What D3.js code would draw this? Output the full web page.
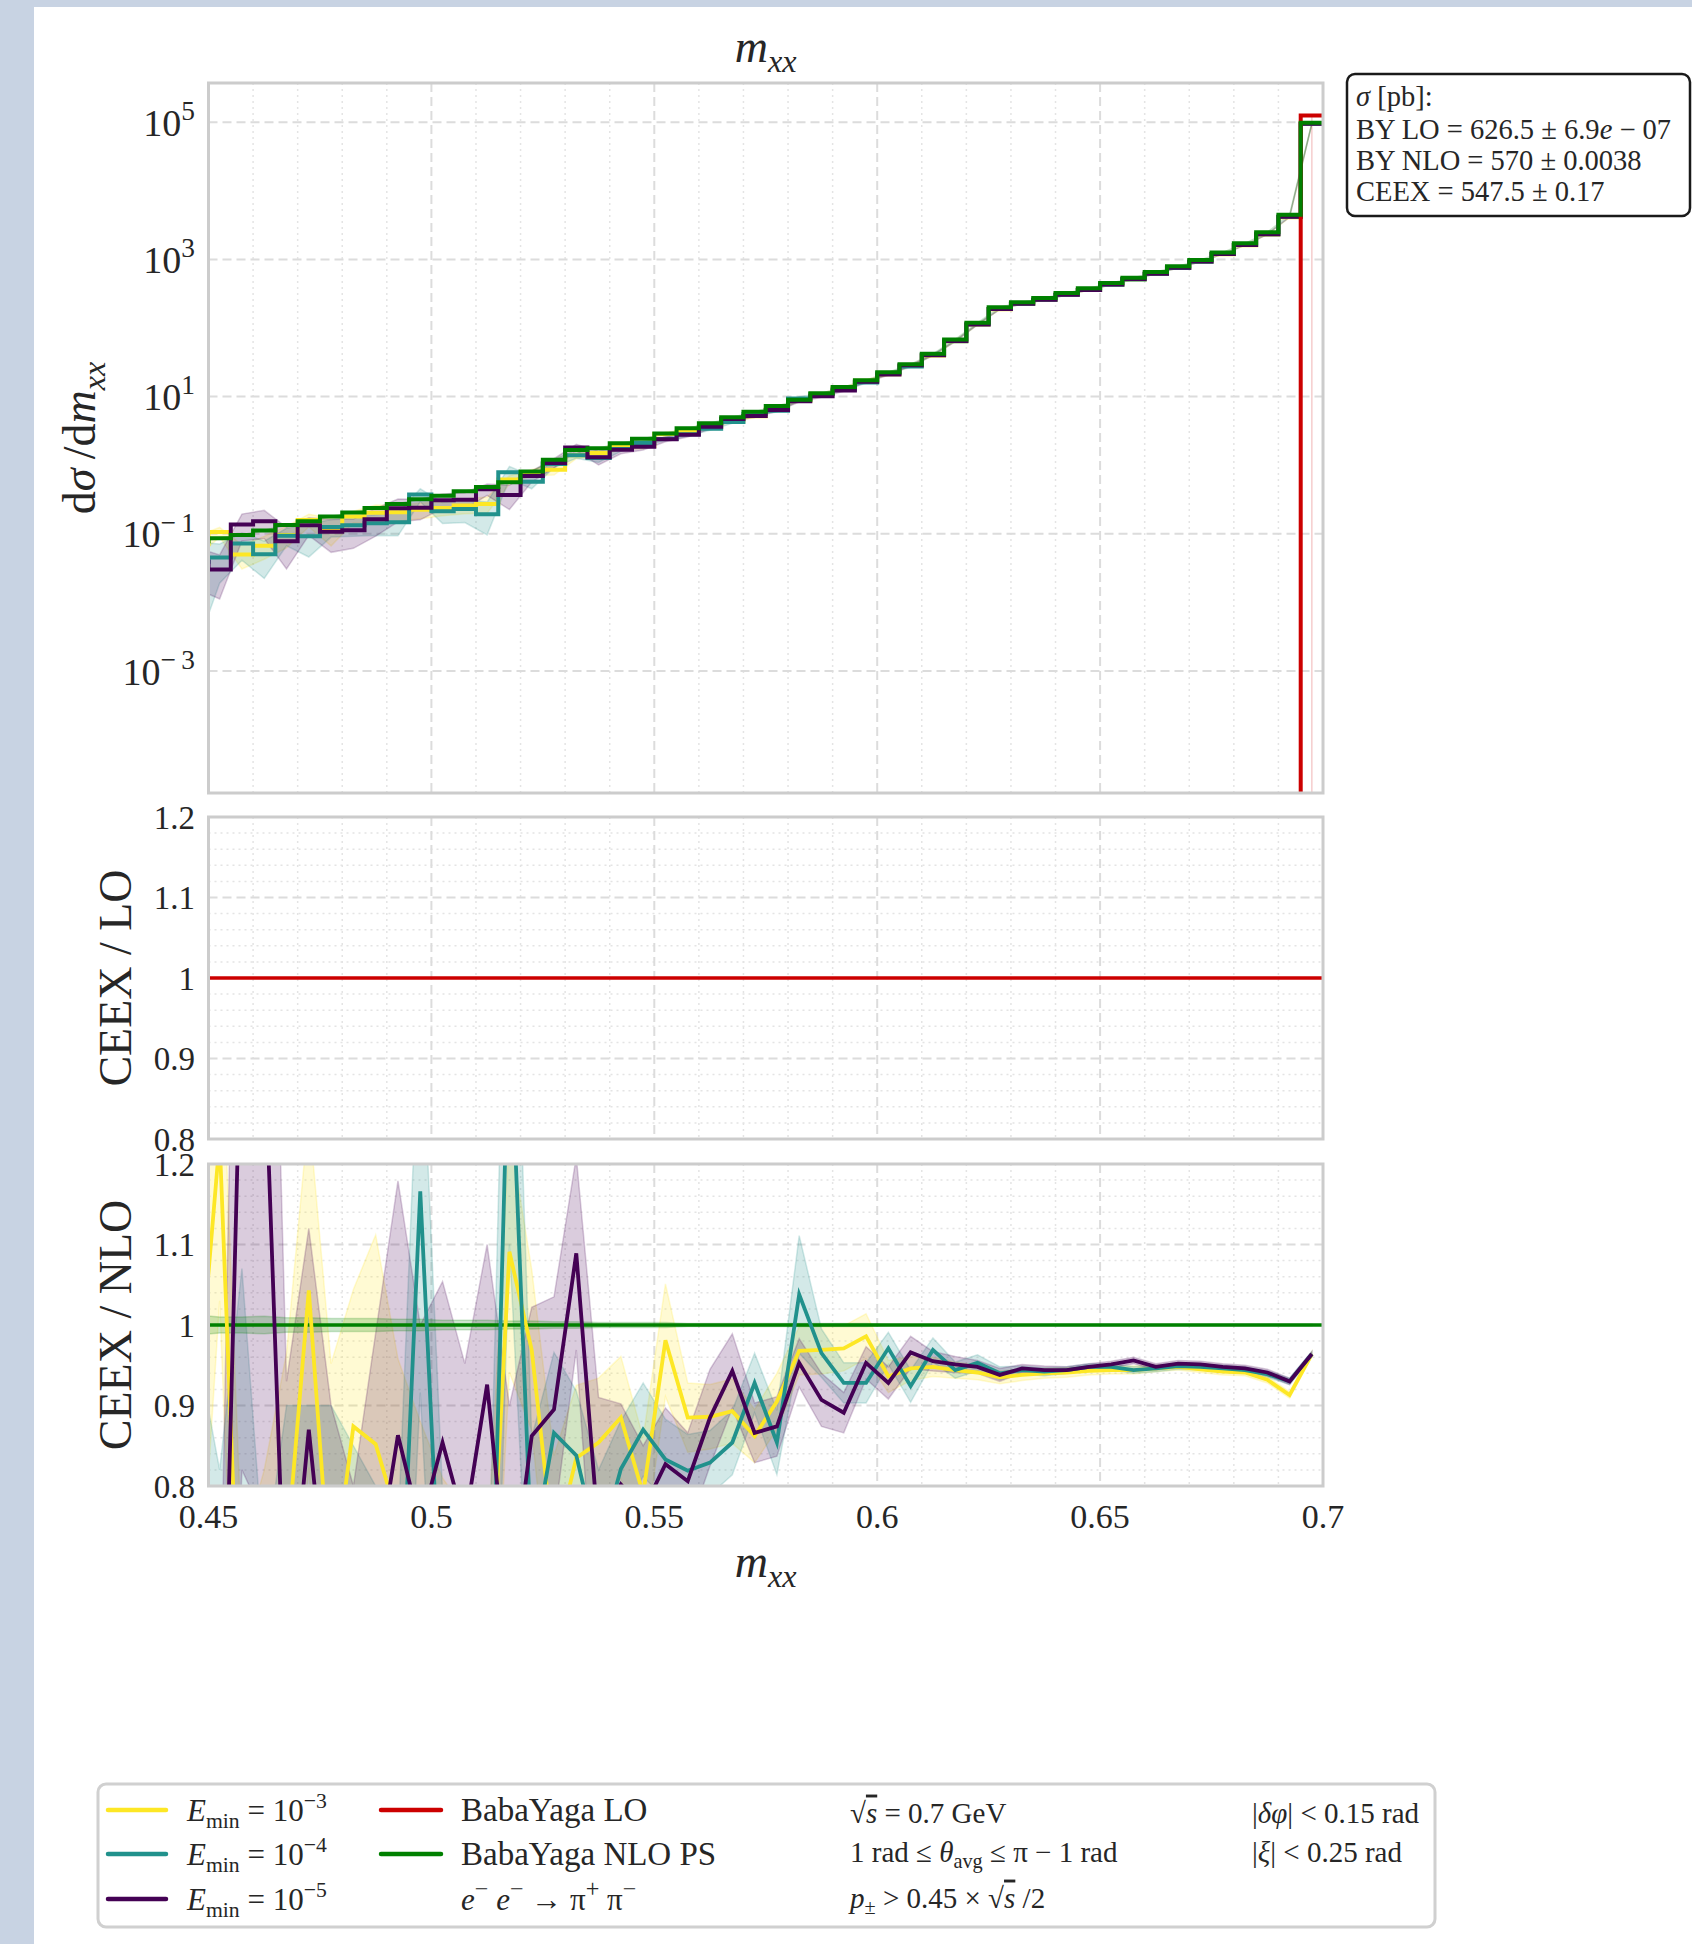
<!DOCTYPE html>
<html><head><meta charset="utf-8">
<script src="https://cdn.jsdelivr.net/npm/d3@7"></script>
<style>
body{margin:0;background:#fff}
svg{display:block}
text{font-family:"Liberation Serif","Times New Roman",serif;fill:#262626}
</style>
</head><body>
<script>
// ---------------- DATA ----------------
// histogram bin edges (first bin is an underflow bin just left of the view)
const binEdges = [0.445,0.45,0.455,0.46,0.465,0.47,0.475,0.48,0.485,0.49,0.495,0.5,0.505,0.51,0.515,0.52,0.525,0.53,0.535,0.54,0.545,0.55,0.555,0.56,0.565,0.57,0.575,0.58,0.585,0.59,0.595,0.6,0.605,0.61,0.615,0.62,0.625,0.63,0.635,0.64,0.645,0.65,0.655,0.66,0.665,0.67,0.675,0.68,0.685,0.69,0.695,0.7];
// dsigma/dm_xx, BabaYaga NLO PS
const nloDensity = [0.078,0.0865,0.096,0.112,0.134,0.153,0.179,0.205,0.237,0.273,0.32,0.36,0.418,0.483,0.565,0.81,1.2,1.67,1.77,2.09,2.42,2.9,3.45,4.1,5.0,6.0,7.3,9.0,11.2,13.8,17.3,22.6,29.6,42,68,119,201,238,273,323,378,452,540,653,791,978,1265,1713,2478,4487,98000];
// dsigma/dm_xx, BabaYaga LO
const loDensity = [0,0,0,0,0,0,0,0,0,0,0,0,0,0,0,0,0,0,0,0,0,0,0,0,0,0,0,0,0,0,0,0,0,0,0,0,0,0,0,0,0,0,0,0,0,0,0,0,0,0,125300];
// CEEX / NLO ratios for the three E_min values
const ratioE3 = [0.90,1.23,0.52,0.60,0.715,1.043,0.662,0.874,0.852,0.758,0.70,0.66,0.62,0.563,1.091,0.969,0.718,0.835,0.854,0.885,0.79,0.981,0.885,0.886,0.893,0.862,0.905,0.968,0.969,0.971,0.986,0.936,0.946,0.948,0.944,0.941,0.935,0.938,0.940,0.941,0.943,0.944,0.944,0.946,0.948,0.945,0.942,0.941,0.932,0.913,0.964];
const ratioE4 = [0.5,0.52,0.75,0.45,0.7,0.6,0.7,0.65,0.6,0.542,1.166,0.592,0.55,0.4,1.4,0.71,0.866,0.838,0.72,0.821,0.870,0.833,0.819,0.829,0.854,0.928,0.854,1.038,0.965,0.928,0.928,0.971,0.924,0.969,0.944,0.953,0.940,0.944,0.942,0.944,0.948,0.948,0.944,0.946,0.949,0.948,0.946,0.944,0.939,0.930,0.964];
const ratioE5 = [0.5,0.35,1.42,1.36,0.58,0.870,0.60,0.55,0.69,0.863,0.75,0.854,0.752,0.926,0.65,0.862,0.895,1.089,0.74,0.802,0.77,0.827,0.806,0.885,0.943,0.866,0.874,0.953,0.907,0.891,0.953,0.928,0.966,0.955,0.951,0.948,0.938,0.946,0.944,0.944,0.948,0.951,0.956,0.948,0.952,0.951,0.948,0.946,0.941,0.930,0.964];
// half-widths of the uncertainty bands (ratio units)
const errE3 = [0.3,0.2,0.2,0.22,0.25,0.22,0.29,0.17,0.26,0.2,0.18,0.15,0.15,0.15,0.15,0.1,0.12,0.09,0.08,0.076,0.07,0.07,0.043,0.04,0.04,0.033,0.035,0.03,0.03,0.028,0.028,0.02,0.015,0.012,0.01,0.009,0.008,0.007,0.006,0.006,0.005,0.005,0.005,0.004,0.004,0.004,0.004,0.004,0.004,0.004,0.003];
const errE4 = [0.47,0.3,0.32,0.25,0.2,0.3,0.2,0.2,0.2,0.2,0.25,0.2,0.2,0.2,0.3,0.15,0.1,0.08,0.1,0.06,0.058,0.05,0.045,0.04,0.04,0.037,0.04,0.073,0.03,0.025,0.025,0.02,0.02,0.015,0.01,0.01,0.008,0.005,0.005,0.004,0.004,0.004,0.004,0.004,0.004,0.004,0.004,0.004,0.004,0.004,0.003];
const errE5 = [0.3,0.22,0.6,0.6,0.35,0.25,0.3,0.25,0.3,0.316,0.25,0.2,0.2,0.174,0.25,0.16,0.14,0.12,0.17,0.1,0.08,0.07,0.06,0.06,0.046,0.037,0.037,0.03,0.033,0.025,0.02,0.02,0.02,0.012,0.01,0.008,0.008,0.005,0.005,0.004,0.004,0.004,0.004,0.004,0.004,0.004,0.004,0.004,0.004,0.004,0.003];
const errNLO = [0.012,0.01,0.01,0.011,0.009,0.009,0.008,0.008,0.008,0.007,0.007,0.006,0.006,0.006,0.005,0.005,0.004,0.004,0.003,0.003,0.003,0.003,0.002,0.002,0.002,0.002,0.002,0.002,0.002,0.002,0.002,0.001,0.001,0.001,0.001,0.001,0.001,0.001,0.001,0.001,0.001,0.001,0.001,0.001,0.001,0.001,0.001,0.001,0.001,0.001,0.001];
const errLO = [0,0,0,0,0,0,0,0,0,0,0,0,0,0,0,0,0,0,0,0,0,0,0,0,0,0,0,0,0,0,0,0,0,0,0,0,0,0,0,0,0,0,0,0,0,0,0,0,0,0,0.000001];

const xTicks = [0.45,0.5,0.55,0.6,0.65,0.7];
const xTickLabels = ["0.45","0.5","0.55","0.6","0.65","0.7"];
const xMinor = [0.46,0.47,0.48,0.49,0.51,0.52,0.53,0.54,0.56,0.57,0.58,0.59,0.61,0.62,0.63,0.64,0.66,0.67,0.68,0.69];
const topTickExp = [5,3,1,-1,-3];
const ratioTicks = [1.2,1.1,1.0,0.9,0.8];
const ratioTickLabels = ["1.2","1.1","1","0.9","0.8"];
const ratioMinor = [0.82,0.84,0.86,0.88,0.92,0.94,0.96,0.98,1.02,1.04,1.06,1.08,1.12,1.14,1.16,1.18];

const series = [
  {name:"E3", ratio:ratioE3, err:errE3, color:"#fde725", exp:"−3"},
  {name:"E4", ratio:ratioE4, err:errE4, color:"#21918c", exp:"−4"},
  {name:"E5", ratio:ratioE5, err:errE5, color:"#440154", exp:"−5"}
];
const RED = "#cc0000", GREEN = "#008000";

// ---------------- LAYOUT ----------------
const W = 1692, H = 1944;
const PX0 = 208.5, PX1 = 1323;
const panels = {
  top: {y0:83, y1:793},
  mid: {y0:817, y1:1139},
  bot: {y0:1164, y1:1486}
};
const centers = binEdges.slice(0,-1).map((e,i)=>(e+binEdges[i+1])/2);

const svg = d3.select("body").append("svg").attr("width",W).attr("height",H);
svg.append("rect").attr("x",0).attr("y",0).attr("width",W).attr("height",H).attr("fill","#fff");
svg.append("rect").attr("x",0).attr("y",0).attr("width",W).attr("height",7).attr("fill","#c8d3e3");
svg.append("rect").attr("x",0).attr("y",0).attr("width",34).attr("height",H).attr("fill","#c8d3e3");

const x = d3.scaleLinear().domain([0.45,0.7]).range([PX0,PX1]);
const yTop = d3.scaleLog().domain([Math.pow(10,-4.778),Math.pow(10,5.571)]).range([panels.top.y1,panels.top.y0]);
const yMid = d3.scaleLinear().domain([0.8,1.2]).range([panels.mid.y1,panels.mid.y0]);
const yBot = d3.scaleLinear().domain([0.8,1.2]).range([panels.bot.y1,panels.bot.y0]);
const yT = v => v>0 ? yTop(v) : 1e6;

const defs = svg.append("defs");
Object.entries(panels).forEach(([k,p])=>{
  defs.append("clipPath").attr("id","clip-"+k).append("rect")
    .attr("x",PX0).attr("y",p.y0).attr("width",PX1-PX0).attr("height",p.y1-p.y0);
});

function rich(parent, xx, yy, segs, size, anchor, rotate, supScale){
  const ss = supScale || 0.7;
  const t = parent.append("text").attr("x",xx).attr("y",yy).attr("font-size",size).attr("text-anchor",anchor||"start");
  if(rotate) t.attr("transform",`rotate(-90,${xx},${yy})`);
  let cur = 0;
  segs.forEach(s=>{
    if(typeof s === "string") s = {t:s};
    let shift = 0, fs = size;
    if(s.sup){shift = -0.42*size; fs = ss*size;}
    if(s.sub){shift = 0.22*size; fs = ss*size;}
    const ts = t.append("tspan").attr("dy",(shift-cur).toFixed(2)).attr("font-size",fs).text(s.t);
    if(s.i) ts.attr("font-style","italic");
    if(s.o) ts.style("text-decoration","overline");
    cur = shift;
  });
  return t;
}

const gridMajor = {stroke:"#dcdcdc", w:2, dash:"9,5"};
const gridMinor = {stroke:"#e4e4e4", w:1.5, dash:"2,4"};
function gridLines(g, p, yVals, yScale, style, vertVals){
  vertVals.forEach(v=>{
    g.append("line").attr("x1",x(v)).attr("x2",x(v)).attr("y1",p.y0).attr("y2",p.y1)
      .attr("stroke",style.stroke).attr("stroke-width",style.w).attr("stroke-dasharray",style.dash);
  });
  yVals.forEach(v=>{
    g.append("line").attr("x1",PX0).attr("x2",PX1).attr("y1",yScale(v)).attr("y2",yScale(v))
      .attr("stroke",style.stroke).attr("stroke-width",style.w).attr("stroke-dasharray",style.dash);
  });
}

// ---------------- TOP PANEL ----------------
const gTop = svg.append("g");
gridLines(gTop, panels.top, [], yTop, gridMinor, xMinor);
gridLines(gTop, panels.top, topTickExp.map(e=>Math.pow(10,e)), yTop, gridMajor, [0.5,0.55,0.6,0.65]);
const cTop = gTop.append("g").attr("clip-path","url(#clip-top)");

function bandTop(vals, lo, hi, color){
  const area = d3.area().x((d,i)=>x(centers[i])).y0((d,i)=>yT(lo(i))).y1((d,i)=>yT(hi(i)));
  cTop.append("path").datum(vals).attr("d",area).attr("fill",color).attr("fill-opacity",0.2)
    .attr("stroke",color).attr("stroke-opacity",0.2).attr("stroke-width",1.5);
}
function stepTop(vals, color){
  const pts = binEdges.map((e,i)=>[e, vals[Math.min(i, vals.length-1)]]);
  const line = d3.line().x(d=>x(d[0])).y(d=>yT(d[1])).curve(d3.curveStepAfter);
  cTop.append("path").datum(pts).attr("d",line).attr("fill","none").attr("stroke",color)
    .attr("stroke-width",4).attr("stroke-linejoin","miter");
}
series.forEach(s=>{
  bandTop(nloDensity, i=>nloDensity[i]*(s.ratio[i]-s.err[i]), i=>nloDensity[i]*(s.ratio[i]+s.err[i]), s.color);
});
bandTop(loDensity, i=>loDensity[i]*(1-errLO[i]), i=>loDensity[i]*(1+errLO[i]), RED);
bandTop(nloDensity, i=>nloDensity[i]*(1-errNLO[i]), i=>nloDensity[i]*(1+errNLO[i]), GREEN);
series.forEach(s=>{
  stepTop(nloDensity.map((v,i)=>v*s.ratio[i]), s.color);
});
stepTop(loDensity, RED);
stepTop(nloDensity, GREEN);

// ---------------- RATIO PANELS ----------------
function ratioPanel(key, yScale){
  const p = panels[key];
  const g = svg.append("g");
  gridLines(g, p, ratioMinor, yScale, gridMinor, xMinor);
  gridLines(g, p, [0.9,1.0,1.1], yScale, gridMajor, [0.5,0.55,0.6,0.65]);
  const c = g.append("g").attr("clip-path",`url(#clip-${key})`);
  return c;
}
const cMid = ratioPanel("mid", yMid);
cMid.append("line").attr("x1",x(0.45)).attr("x2",x(0.7)).attr("y1",yMid(1)).attr("y2",yMid(1))
  .attr("stroke",RED).attr("stroke-width",3.5);

const cBot = ratioPanel("bot", yBot);
series.forEach(s=>{
  const area = d3.area().x((d,i)=>x(centers[i])).y0((d,i)=>yBot(d - s.err[i])).y1((d,i)=>yBot(d + s.err[i]));
  cBot.append("path").datum(s.ratio).attr("d",area).attr("fill",s.color).attr("fill-opacity",0.2)
    .attr("stroke",s.color).attr("stroke-opacity",0.2).attr("stroke-width",1.5);
});
{
  const area = d3.area().x((d,i)=>x(centers[i])).y0((d,i)=>yBot(1-d)).y1((d,i)=>yBot(1+d));
  cBot.append("path").datum(errNLO).attr("d",area).attr("fill",GREEN).attr("fill-opacity",0.2)
    .attr("stroke",GREEN).attr("stroke-opacity",0.2).attr("stroke-width",1.5);
}
cBot.append("line").attr("x1",x(0.45)).attr("x2",x(0.7)).attr("y1",yBot(1)).attr("y2",yBot(1))
  .attr("stroke",GREEN).attr("stroke-width",3.5);
series.forEach(s=>{
  const line = d3.line().x((d,i)=>x(centers[i])).y(d=>yBot(d));
  cBot.append("path").datum(s.ratio).attr("d",line).attr("fill","none").attr("stroke",s.color)
    .attr("stroke-width",3.8).attr("stroke-linejoin","miter");
});

// ---------------- FRAMES ----------------
Object.values(panels).forEach(p=>{
  svg.append("rect").attr("x",PX0).attr("y",p.y0).attr("width",PX1-PX0).attr("height",p.y1-p.y0)
    .attr("fill","none").attr("stroke","#cccccc").attr("stroke-width",3);
});

// ---------------- TICK LABELS ----------------
const TF = 33, LTF = 38;
topTickExp.forEach(e=>{
  rich(svg, 195, yTop(Math.pow(10,e)) + 0.36*LTF, ["10",{t:(e<0?"−\u2009":"")+Math.abs(e), sup:true}], LTF, "end", false, 0.72);
});
[["mid",yMid],["bot",yBot]].forEach(([k,ys])=>{
  ratioTicks.forEach((v,i)=>{
    svg.append("text").attr("x",195).attr("y",ys(v)+0.36*TF).attr("text-anchor","end")
      .attr("font-size",TF).text(ratioTickLabels[i]);
  });
});
xTicks.forEach((v,i)=>{
  svg.append("text").attr("x",x(v)).attr("y",1516+0.36*TF).attr("text-anchor","middle")
    .attr("font-size",TF+1).text(xTickLabels[i]);
});

// ---------------- AXIS LABELS ----------------
const midX = (PX0+PX1)/2;
rich(svg, midX, 48+14, [{t:"m",i:true},{t:"xx",i:true,sub:true}], 46, "middle");
rich(svg, midX, 1563+14, [{t:"m",i:true},{t:"xx",i:true,sub:true}], 46, "middle");
rich(svg, 80+15, (panels.top.y0+panels.top.y1)/2, ["d",{t:"σ",i:true},"\u2009/d",{t:"m",i:true},{t:"xx",i:true,sub:true}], 46, "middle", true);
rich(svg, 115+16, (panels.mid.y0+panels.mid.y1)/2, ["CEEX / LO"], 46, "middle", true);
rich(svg, 115+16, (panels.bot.y0+panels.bot.y1)/2, ["CEEX / NLO"], 46, "middle", true);

// ---------------- SIGMA BOX ----------------
svg.append("rect").attr("x",1347).attr("y",74).attr("width",343).attr("height",142).attr("rx",8)
  .attr("fill","#fff").attr("stroke","#1a1a1a").attr("stroke-width",2.5);
const SF = 28.5, SX = 1356;
rich(svg, SX, 106, [{t:"σ",i:true},"  [pb]:"], SF);
rich(svg, SX, 139, ["BY LO  = 626.5 ± 6.9",{t:"e",i:true}," − 07"], SF);
rich(svg, SX, 170, ["BY NLO  = 570 ± 0.0038"], SF);
rich(svg, SX, 201, ["CEEX  = 547.5 ± 0.17"], SF);

// ---------------- LEGEND ----------------
svg.append("rect").attr("x",98).attr("y",1784).attr("width",1337).attr("height",143).attr("rx",8)
  .attr("fill","#fff").attr("stroke","#d0d0d0").attr("stroke-width",3);
const LF = 33;
const rows = [1810, 1854, 1899];
series.forEach((s,i)=>{
  svg.append("line").attr("x1",108).attr("x2",166).attr("y1",rows[i]).attr("y2",rows[i])
    .attr("stroke",s.color).attr("stroke-width",4.5).attr("stroke-linecap","round");
  rich(svg, 187, rows[i]+0.33*LF, [{t:"E",i:true},{t:"min",sub:true}," = 10",{t:s.exp,sup:true}], 31);
});
[[RED,"BabaYaga LO"],[GREEN,"BabaYaga NLO PS"]].forEach(([c,t],i)=>{
  svg.append("line").attr("x1",381).attr("x2",441).attr("y1",rows[i]).attr("y2",rows[i])
    .attr("stroke",c).attr("stroke-width",4.5).attr("stroke-linecap","round");
  rich(svg, 461, rows[i]+0.33*LF, [t], LF);
});
rich(svg, 461, rows[2]+0.33*LF, [{t:"e",i:true},{t:"−",sup:true}," ",{t:"e",i:true},{t:"−",sup:true},"  →  π",{t:"+",sup:true}," π",{t:"−",sup:true}], 31, "start", false, 0.78);
const CF = 29;
rich(svg, 850, 1813+0.33*CF, ["√",{t:"s",i:true,o:true}," = 0.7 GeV"], CF);
rich(svg, 850, 1852+0.33*CF, ["1 rad ≤ ",{t:"θ",i:true},{t:"avg",sub:true}," ≤ π − 1 rad"], CF);
rich(svg, 850, 1898+0.33*CF, [{t:"p",i:true},{t:"±",sub:true},"  >  0.45  ×  √",{t:"s",i:true,o:true}," /2"], CF);
rich(svg, 1252, 1813+0.33*CF, ["|",{t:"δφ",i:true},"| < 0.15 rad"], CF);
rich(svg, 1252, 1852+0.33*CF, ["|",{t:"ξ",i:true},"| < 0.25 rad"], CF);
</script>
</body></html>
